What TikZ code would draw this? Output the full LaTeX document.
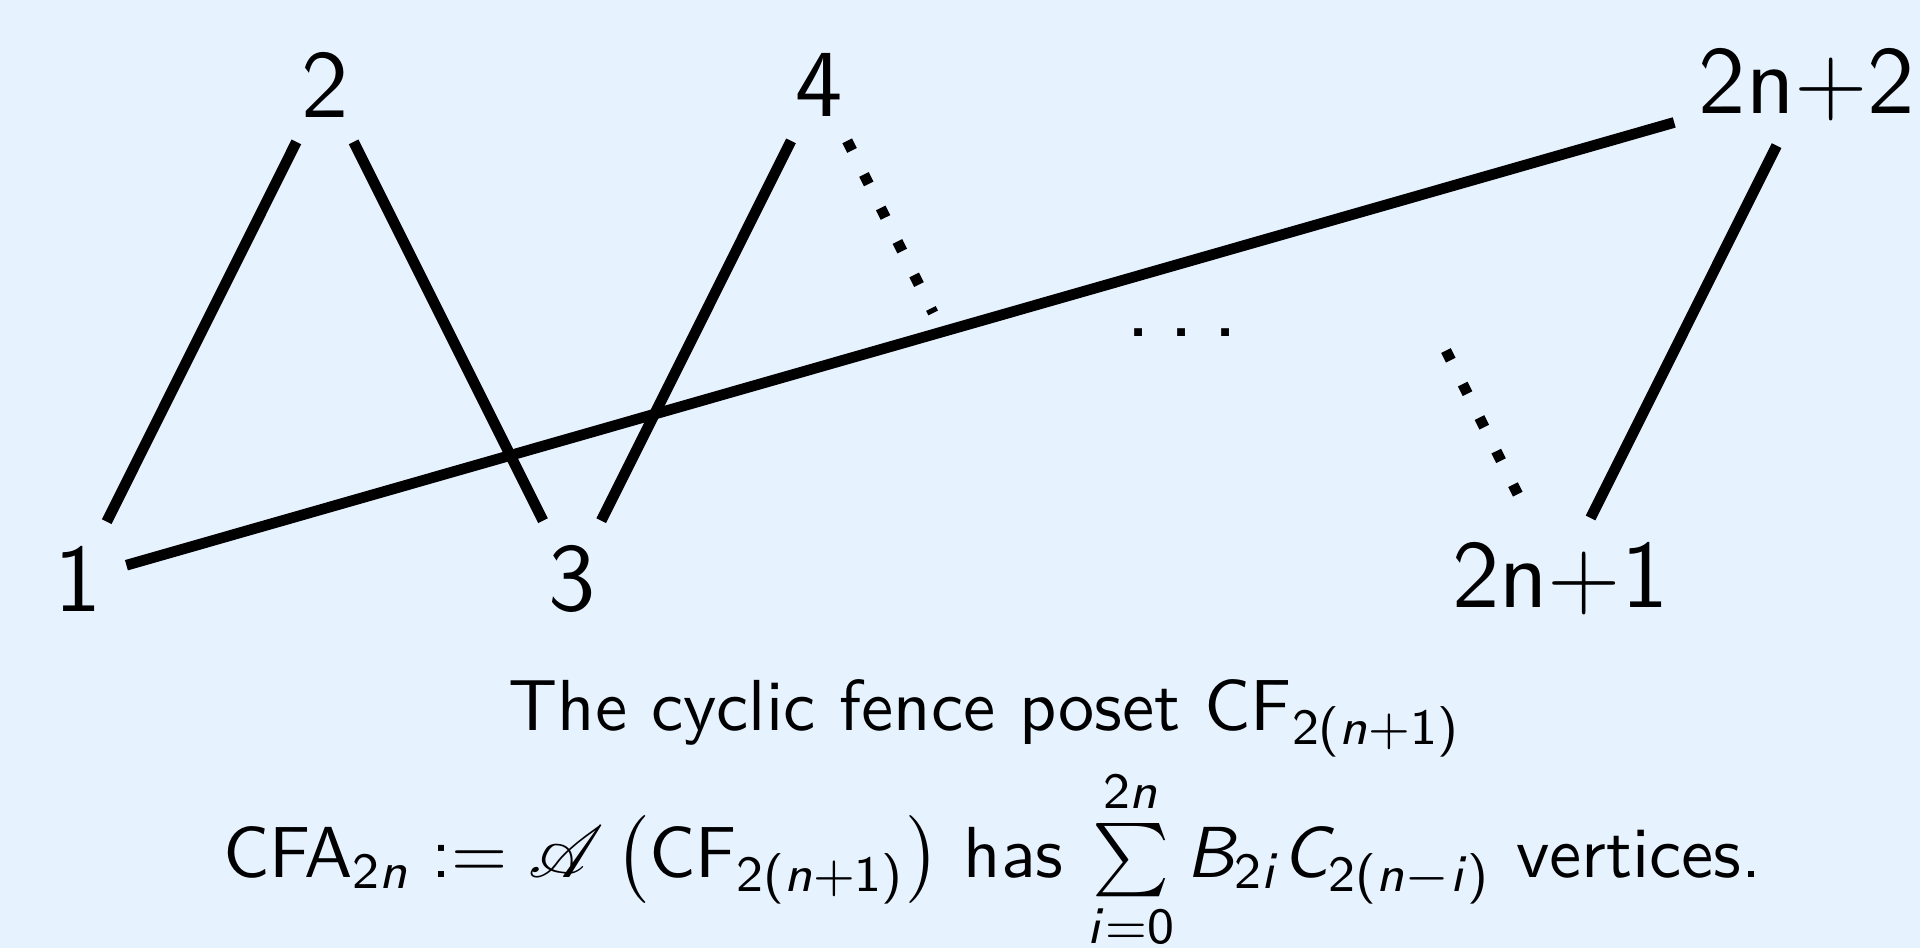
\documentclass[tikz,border=0pt]{standalone}
\usepackage{fix-cm}
\usepackage{amsmath}
\usepackage{mathrsfs}
\usepackage{xcolor}
\usepackage{tikz}
\usetikzlibrary{calc}

\renewcommand{\familydefault}{\sfdefault}
\SetSymbolFont{operators}{normal}{OT1}{cmss}{m}{n}
\DeclareSymbolFont{sfletters}{OT1}{cmss}{m}{sl}
\DeclareMathSymbol{n}{\mathalpha}{sfletters}{`n}
\DeclareMathSymbol{i}{\mathalpha}{sfletters}{`i}
\DeclareMathSymbol{B}{\mathalpha}{sfletters}{`B}
\DeclareMathSymbol{C}{\mathalpha}{sfletters}{`C}
\definecolor{slidebg}{RGB}{231,242,255}

\begin{document}
\begin{tikzpicture}[
    vtx/.style={font=\fontsize{14.4}{17}\selectfont, inner sep=3.5pt},
    cover/.style={ultra thick},
    gap/.style={ultra thick, loosely dotted},
    caption/.style={font=\fontsize{10.8}{13.4}\selectfont, anchor=base}]
    \fill[slidebg] (0,0) rectangle (10.084,-4.979);
    \useasboundingbox (0,0) rectangle (10.084,-4.979);

    \node (v1) at (0.410,-3.041) [vtx] {1};
    \node (v2) at (1.707,-0.444) [vtx] {2};
    \node (v3) at (3.005,-3.041) [vtx] {3};
    \node (v4) at (4.302,-0.444) [vtx] {4};
    \node (dots) at (6.208,-1.749) [vtx] {.\hspace{0.18em}.\hspace{0.18em}.};
    \node (v2n1) at (8.194,-3.041) [vtx] {2n+1};
    \node (v2n2) at (9.491,-0.444) [vtx] {2n+2};
    % the elements 5 and 2n are left out
    \coordinate (v5) at (5.599,-3.041);
    \coordinate (v2n) at (6.896,-0.444);

    \draw [cover] (v1) -- (v2);
    \draw [cover] (v2) -- (v3);
    \draw [cover] (v3) -- (v4);
    \draw [gap] (v4) -- ($(v4)!0.462!(v5)$);
    \draw [gap] ($(v2n)!0.538!(v2n1)$) -- (v2n1);
    \draw [cover] (v2n1) -- (v2n2);
    \draw [cover] (v1) -- (v2n2);

    \node (title) at (5.173,-3.839) [caption] {The cyclic fence poset $\mathsf{CF}_{2(n+1)}$};
    \node (count) at (5.213,-4.611) [caption] {$\mathsf{CFA}_{2n} := \mathscr{A}\left(\mathsf{CF}_{2(n+1)}\right)$ has $\sum\limits_{i=0}^{2n} B_{2i}C_{2(n-i)}$ vertices.};
\end{tikzpicture}
\end{document}
